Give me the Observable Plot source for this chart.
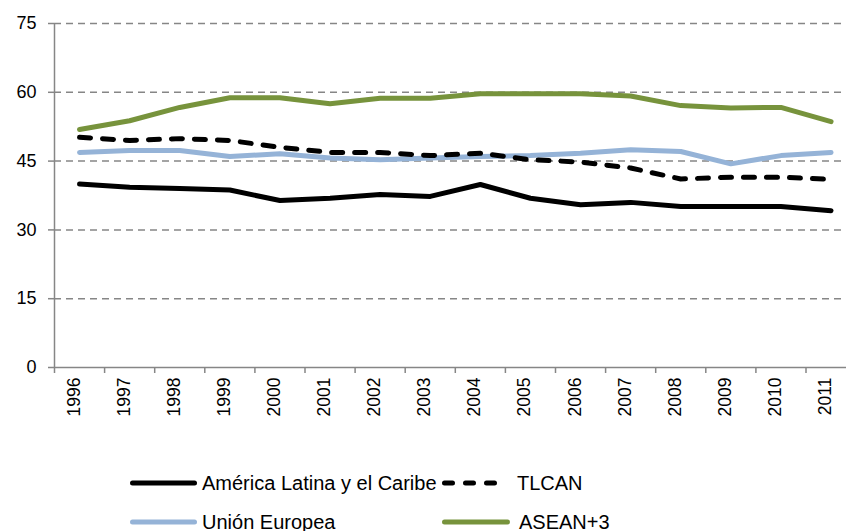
<!DOCTYPE html>
<html>
<head>
<meta charset="utf-8">
<script src="https://cdn.jsdelivr.net/npm/d3@7"></script>
<script src="https://cdn.jsdelivr.net/npm/@observablehq/plot@0.6"></script>
<style>
  html, body { margin: 0; padding: 0; background: #fff; }
  #wrap { position: relative; width: 846px; height: 531px; overflow: hidden; font-family: "Liberation Sans", Arial, sans-serif; }
  #chart svg { display: block; }
  .leg { position: absolute; display: flex; align-items: center; font-size: 20px; color: #000; white-space: nowrap; height: 24px; }
  .leg svg { display: block; }
</style>
</head>
<body>
<div id="wrap">
  <div id="chart"></div>
  <div id="legend"></div>
</div>
<script>
const years = [1996,1997,1998,1999,2000,2001,2002,2003,2004,2005,2006,2007,2008,2009,2010,2011];
const seriesNames = ["América Latina y el Caribe", "TLCAN", "Unión Europea", "ASEAN+3"];
const americaLatina = [40.0,39.3,39.0,38.7,36.4,36.9,37.7,37.3,39.9,36.9,35.5,36.0,35.1,35.1,35.1,34.2];
const tlcan         = [50.2,49.5,49.9,49.5,48.0,46.9,46.9,46.2,46.7,45.3,44.8,43.5,41.1,41.5,41.5,41.0];
const unionEuropea  = [46.9,47.3,47.3,46.0,46.6,45.7,45.3,45.7,46.0,46.2,46.7,47.5,47.1,44.4,46.2,46.9];
const asean3        = [51.9,53.8,56.7,58.8,58.8,57.5,58.7,58.7,59.7,59.7,59.7,59.2,57.1,56.6,56.7,53.6];
const yTicks = [0,15,30,45,60,75];
const colors = ["#000000", "#000000", "#95B3D7", "#77933C"];

const values = [americaLatina, tlcan, unionEuropea, asean3];
const data = [];
seriesNames.forEach((s, i) => years.forEach((yr, j) => data.push({series: s, year: yr, value: values[i][j]})));

const boundaries = years.map(y => y - 0.5).concat([2011.5]);
const font = "Liberation Sans, Arial, sans-serif";
const axisGray = "#868686";

function lineFor(name, i, extra) {
  return Plot.line(data.filter(d => d.series === name), Object.assign({
    x: "year", y: "value", stroke: colors[i], strokeWidth: 5,
    strokeLinejoin: "round", strokeLinecap: "round"
  }, extra || {}));
}

const chart = Plot.plot({
  width: 846,
  height: 440,
  marginLeft: 54,
  marginRight: 0,
  marginTop: 23,
  marginBottom: 73,
  style: { fontFamily: font, fontSize: "18px", background: "#fff", overflow: "visible" },
  x: { type: "linear", domain: [1995.5, 2011.5], range: [54, 855.6] },
  y: { domain: [0, 75] },
  marks: [
    Plot.ruleY(yTicks.filter(d => d > 0), { stroke: axisGray, strokeWidth: 1.5, strokeDasharray: "7,5" }),
    Plot.ruleY([0], { stroke: axisGray, strokeWidth: 1.5 }),
    Plot.ruleX([1995.5], { y1: 0, y2: 75, stroke: axisGray, strokeWidth: 1.5 }),
    Plot.axisY(yTicks, { tickSize: 6, tickPadding: 12, stroke: axisGray, strokeWidth: 1.5, fill: "#000", label: null }),
    Plot.axisX(boundaries, { tickSize: 6, stroke: axisGray, strokeWidth: 1.5, tickFormat: () => "", label: null }),
    Plot.text(years, { x: d => d, frameAnchor: "bottom", rotate: -90, textAnchor: "end", dy: 10, fontSize: 17.5, fill: "#000", text: d => String(d) }),
    lineFor(seriesNames[2], 2),
    lineFor(seriesNames[3], 3),
    lineFor(seriesNames[1], 1, { strokeDasharray: "11,12" }),
    lineFor(seriesNames[0], 0)
  ]
});
document.getElementById("chart").appendChild(chart);

// Legend
const legendItems = [
  { name: seriesNames[0], color: colors[0], dash: null, left: 130, top: 471, w: 63 },
  { name: seriesNames[1], color: colors[1], dash: "11,12", left: 442, top: 471, w: 62 },
  { name: seriesNames[2], color: colors[2], dash: null, left: 130, top: 510, w: 63 },
  { name: seriesNames[3], color: colors[3], dash: null, left: 442, top: 510, w: 64 }
];
const legend = document.getElementById("legend");
legendItems.forEach(it => {
  const div = document.createElement("div");
  div.className = "leg";
  div.style.left = it.left + "px";
  div.style.top = it.top + "px";
  const svgNS = "http://www.w3.org/2000/svg";
  const sw = document.createElementNS(svgNS, "svg");
  sw.setAttribute("width", it.w + 4);
  sw.setAttribute("height", 12);
  const ln = document.createElementNS(svgNS, "line");
  ln.setAttribute("x1", 2.5); ln.setAttribute("x2", it.w + 1.5);
  ln.setAttribute("y1", 6); ln.setAttribute("y2", 6);
  ln.setAttribute("stroke", it.color);
  ln.setAttribute("stroke-width", 5);
  ln.setAttribute("stroke-linecap", "round");
  if (it.dash) ln.setAttribute("stroke-dasharray", "8,13");
  sw.appendChild(ln);
  div.appendChild(sw);
  const sp = document.createElement("span");
  sp.textContent = it.name;
  sp.style.marginLeft = (it.dash || it.left === 442 ? 9 : 5) + "px";
  div.appendChild(sp);
  legend.appendChild(div);
});
</script>
</body>
</html>
